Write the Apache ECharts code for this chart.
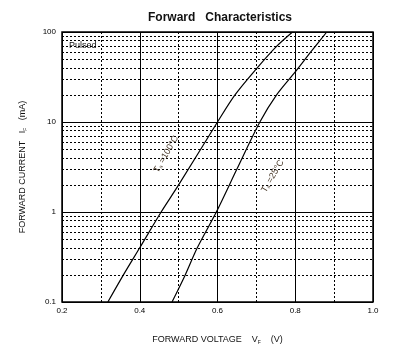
<!DOCTYPE html>
<html>
<head>
<meta charset="utf-8">
<script src="https://cdn.jsdelivr.net/npm/echarts@6/dist/echarts.min.js"></script>
<style>
  html, body { margin: 0; padding: 0; background: #fff; }
  #chart { width: 400px; height: 354px; }
</style>
</head>
<body>
<div id="chart"></div>
<script>
// 读图估计的数据 (V, mA)
const curveHot = [[0.318, 0.1], [0.358, 0.2], [0.4, 0.4], [0.455, 1], [0.5, 2], [0.6, 10], [0.645, 20], [0.7, 39], [0.75, 68], [0.793, 100]];
const curveRoom = [[0.483, 0.1], [0.517, 0.2], [0.548, 0.4], [0.597, 1], [0.65, 3], [0.709, 10], [0.752, 20], [0.8, 36], [0.84, 60], [0.881, 100]];
const minorCurrents = [0.2, 0.3, 0.4, 0.5, 0.6, 0.7, 0.8, 0.9, 2, 3, 4, 5, 6, 7, 8, 9, 20, 30, 40, 50, 60, 70, 80, 90];
const hotLabelAt = [0.468, 4.4];
const roomLabelAt = [0.742, 2.5];

const font = '"Liberation Sans", Arial, sans-serif';
const dotted = { color: '#000', width: 1, type: [2, 2] };

const tempLabel = (t) => ({
  show: true,
  rotate: 60,
  formatter: `{t|T}{s|a}{t| =${t}°C}`,
  rich: {
    t: { fontSize: 9, color: '#4a3a2a', fontFamily: font },
    s: { fontSize: 5, color: '#4a3a2a', fontFamily: font, verticalAlign: 'bottom', padding: [4, 0, 0, 0] }
  }
});

const chart = echarts.init(document.getElementById('chart'));
chart.setOption({
  animation: false,
  title: {
    text: 'Forward   Characteristics',
    left: 215,
    textAlign: 'center',
    top: 7,
    textStyle: { fontSize: 12, fontWeight: 'bold', color: '#111', fontFamily: font }
  },
  grid: {
    left: 62, right: 27, top: 32, bottom: 52,
    show: true, borderColor: '#000', borderWidth: 1.5
  },
  xAxis: {
    type: 'value',
    min: 0.2, max: 1.0, interval: 0.2,
    name: 'FORWARD VOLTAGE    {v|V}{f|F}    (V)',
    nameLocation: 'middle',
    nameGap: 33,
    nameTextStyle: {
      fontSize: 9, color: '#111', fontFamily: font,
      rich: {
        v: { fontSize: 9, color: '#111', fontFamily: font },
        f: { fontSize: 5, color: '#111', fontFamily: font, verticalAlign: 'bottom', padding: [5, 0, 0, 0] }
      }
    },
    axisLine: { show: false },
    axisTick: { show: false },
    axisLabel: { fontSize: 8, color: '#000', fontFamily: font, margin: 5, formatter: v => v.toFixed(1) },
    splitLine: { show: true, lineStyle: { color: '#000', width: 1 } },
    minorTick: { show: false, splitNumber: 2 },
    minorSplitLine: { show: true, lineStyle: dotted }
  },
  yAxis: {
    type: 'log',
    logBase: 10,
    min: 0.1, max: 100,
    name: 'FORWARD CURRENT   {i|I}{f|F}   (mA)',
    nameLocation: 'middle',
    nameGap: 34,
    nameRotate: 90,
    nameTextStyle: {
      fontSize: 9, color: '#111', fontFamily: font,
      rich: {
        i: { fontSize: 9, color: '#111', fontFamily: font },
        f: { fontSize: 5, color: '#111', fontFamily: font, verticalAlign: 'bottom', padding: [5, 0, 0, 0] }
      }
    },
    axisLine: { show: false },
    axisTick: { show: false },
    axisLabel: { fontSize: 8, color: '#000', fontFamily: font, margin: 6 },
    splitLine: { show: true, lineStyle: { color: '#000', width: 1 } }
  },
  series: [
    {
      type: 'line',
      data: [],
      silent: true,
      markLine: {
        silent: true,
        symbol: 'none',
        label: { show: false },
        lineStyle: dotted,
        data: minorCurrents.map(v => ({ yAxis: v }))
      }
    },
    {
      name: 'Ta=100°C',
      type: 'line',
      data: curveHot,
      smooth: 0.3,
      showSymbol: false,
      lineStyle: { color: '#000', width: 1.2 },
      markPoint: {
        symbol: 'circle', symbolSize: 0,
        label: tempLabel(100),
        data: [{ coord: hotLabelAt }]
      }
    },
    {
      name: 'Ta=25°C',
      type: 'line',
      data: curveRoom,
      smooth: 0.3,
      showSymbol: false,
      lineStyle: { color: '#000', width: 1.2 },
      markPoint: {
        symbol: 'circle', symbolSize: 0,
        label: tempLabel(25),
        data: [{ coord: roomLabelAt }]
      }
    }
  ],
  graphic: [
    {
      type: 'text',
      left: 69, top: 41,
      style: { text: 'Pulsed', fontSize: 9, fill: '#111', fontFamily: font }
    }
  ]
});
</script>
</body>
</html>
